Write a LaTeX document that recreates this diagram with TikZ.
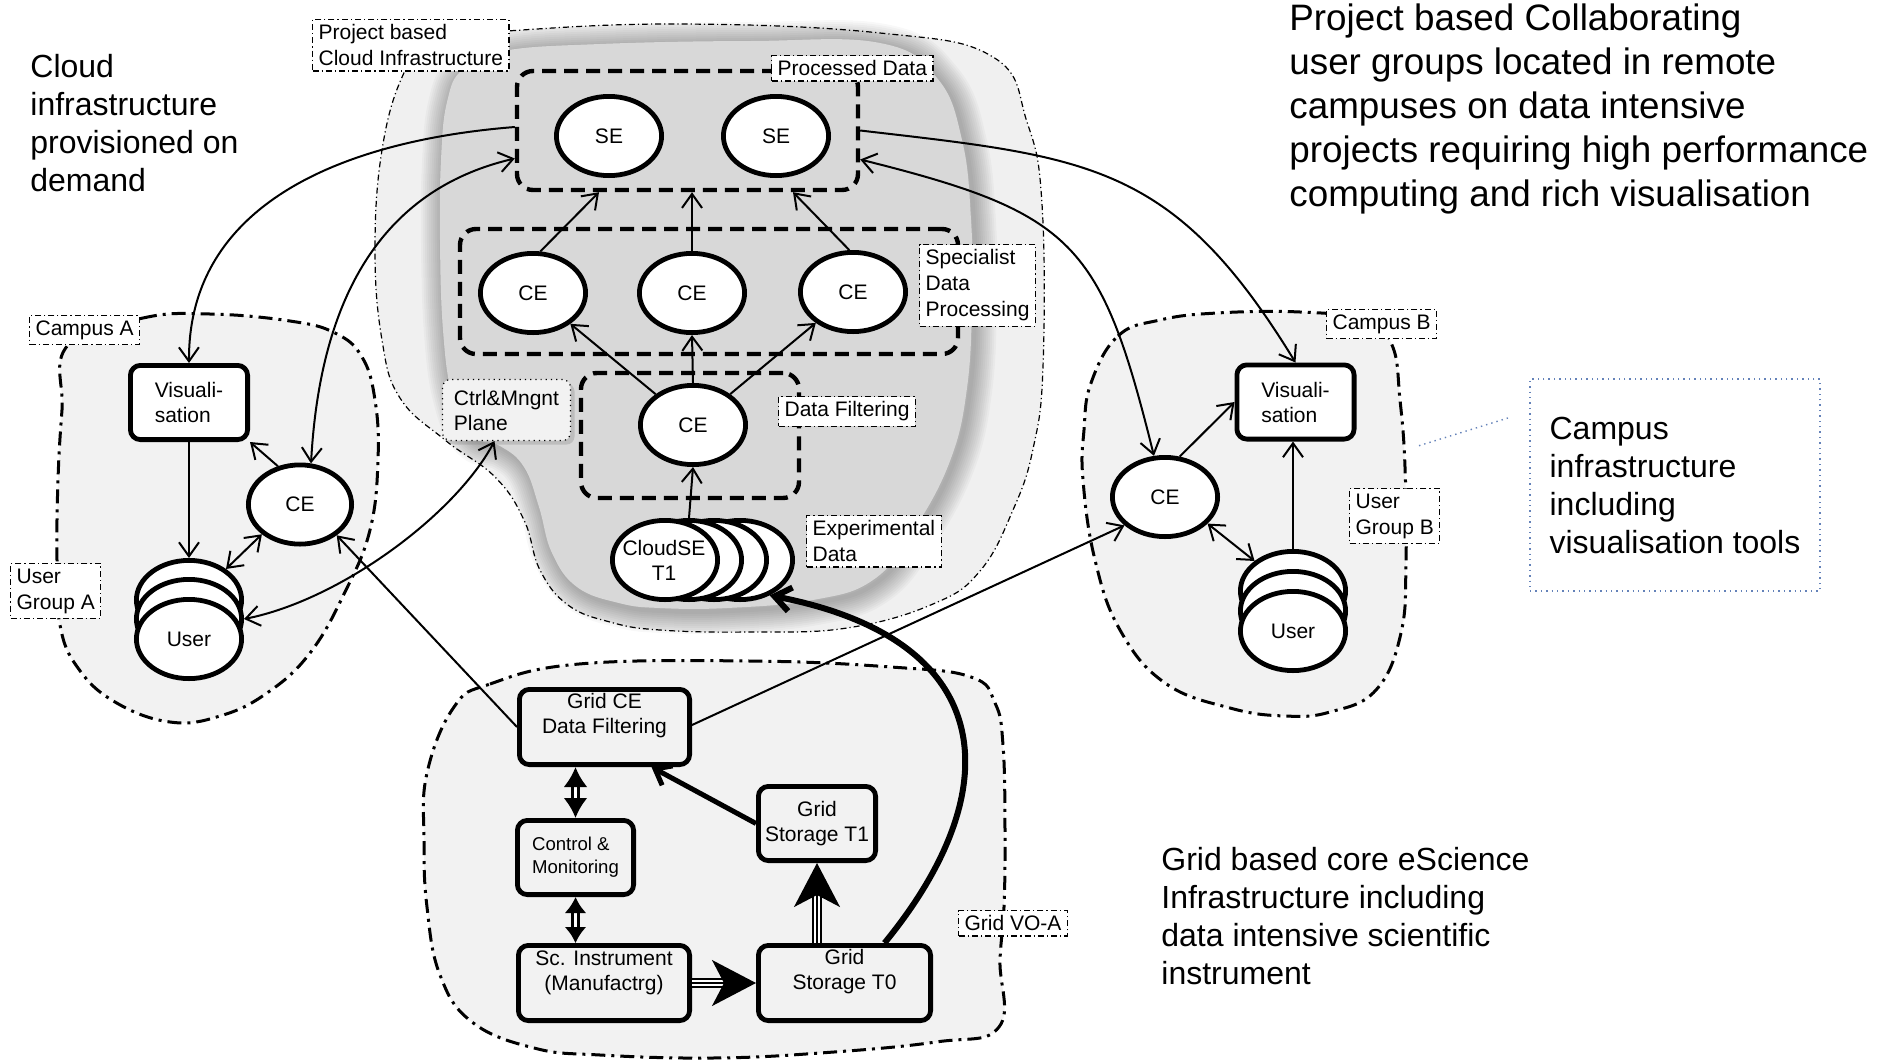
\documentclass[tikz,border=0pt]{standalone}
\usepackage{fontspec}
\setmainfont{Liberation Sans}
\usetikzlibrary{shapes.geometric,arrows.meta,calc,shadows}
\definecolor{lightfill}{RGB}{242,242,242}
\definecolor{cloudfill}{RGB}{240,240,240}
\definecolor{darkfill}{RGB}{216,216,216}
\definecolor{infoblue}{RGB}{100,130,185}
\newcommand\myNodeFont{\fontsize{10.5}{12.5}\selectfont}
\newcommand\myLblFont{\fontsize{10.5}{13}\selectfont}
\newcommand\mySmallFont{\fontsize{9.3}{11.5}\selectfont}
\newcommand\myBigFont{\fontsize{18.4}{22}\selectfont}
\newcommand\myMidFont{\fontsize{16}{19}\selectfont}
\def\outerblob{plot[smooth cycle, tension=0.7] coordinates {(403,75) (432,40) (507,31) (680,24) (880,33) (993,57) (1027,122) (1042,204) (1043,367) (1033,449) (1013,510) (980,571) (933,604) (847,628) (750,632) (660,630) (610,622) (568,605) (540,570) (524,520) (495,477) (445,440) (400,398) (382,340) (375,250) (382,150)}}
\def\innerblob{plot[smooth cycle, tension=0.7] coordinates {(463,69) (503,51) (600,44) (750,41) (880,43) (937,78) (962,140) (971,220) (972,300) (967,388) (950,461) (913,531) (873,580) (813,600) (727,608) (660,608) (619,603) (577,587) (552,553) (539,507) (524,467) (500,446) (470,435) (452,395) (443,330) (440,240) (441,160) (447,102)}}
\def\campusAblob{plot[smooth cycle, tension=0.7] coordinates {(68,345) (143,318) (210,314) (290,321) (335,333) (362,357) (375,400) (378,460) (370,530) (345,592) (310,653) (267,693) (220,716) (170,722) (115,702) (78,668) (60,625) (57,560) (58,480) (62,410)}}
\def\campusBblob{plot[smooth cycle, tension=0.7] coordinates {(1091,383) (1118,336) (1160,320) (1217,313) (1300,312) (1365,320) (1392,345) (1400,400) (1405,467) (1406,560) (1401,633) (1376,690) (1330,712) (1285,716) (1230,708) (1165,683) (1120,630) (1095,560) (1083,480) (1084,430)}}
\def\gridblob{plot[smooth cycle, tension=0.7] coordinates {(454,707) (490,684) (579,664) (750,661) (891,667) (971,677) (995,703) (1003,745) (1005,830) (1004,907) (1000,960) (999,1027) (936,1042) (820,1053) (712,1058) (600,1055) (534,1048) (472,1022) (440,975) (427,907) (424,840) (427,773)}}
\begin{document}
\begin{tikzpicture}[x=0.5pt,y=-0.5pt,
  ell/.style={ellipse, draw, line width=2.4pt, fill=white, minimum width=52.6pt, minimum height=39.6pt, inner sep=0pt, font=\myNodeFont, align=center},
  vbox/.style={rectangle, rounded corners=5pt, draw, line width=2.4pt, fill=white, minimum width=58.6pt, minimum height=37.1pt, inner sep=2pt, font=\myNodeFont, align=left},
  gbox/.style={rectangle, rounded corners=5pt, draw, line width=2.4pt, fill=lightfill, inner sep=0pt, font=\myNodeFont, align=center},
  dbox/.style={rectangle, rounded corners=8pt, draw, line width=2.2pt, dash pattern=on 7pt off 4pt, inner sep=0pt},
  lbl/.style={rectangle, draw, line width=0.6pt, dash pattern=on 3pt off 1.5pt on 0.6pt off 1.5pt, fill=white, font=\myLblFont, align=left, inner xsep=3pt, inner ysep=2.5pt, anchor=north west},
  plaintext/.style={inner sep=0pt, align=left, anchor=north west},
  inbox/.style={font=\myNodeFont, align=center, inner sep=0pt},
  blobline/.style={line width=1.5pt, dash pattern=on 7pt off 3pt on 1.5pt off 3pt},
  thinblob/.style={line width=0.6pt, dash pattern=on 3pt off 1.5pt on 0.6pt off 1.5pt},
  con/.style={line width=1pt, -{Straight Barb[length=7pt,width=10pt]}},
  dcon/.style={line width=1pt, {Straight Barb[length=7pt,width=10pt]}-{Straight Barb[length=7pt,width=10pt]}},
  thickcon/.style={line width=2.5pt, -{Straight Barb[length=7pt,width=11pt]}},
  vthickcon/.style={line width=3pt, -{Straight Barb[length=8pt,width=12pt]}},
  dblarrow/.style={line width=1.5pt, double=white, double distance=1.6pt, {Latex[length=10pt,width=12pt]}-{Latex[length=10pt,width=12pt]}},
  dblarrowsmall/.style={line width=1.4pt, double=white, double distance=1.6pt, {Latex[length=8pt,width=11pt]}-{Latex[length=8pt,width=11pt]}},
  tripleshaft/.style={line width=0.8pt, double=white, double distance=3.2pt},
  triplehead/.style={line width=0.8pt, -{Stealth[length=22pt,width=23pt,inset=6pt]}}
]
\useasboundingbox (0,0) rectangle (1880,1061);
\fill[white] (0,0) rectangle (1880,1061);

% ---- background regions
\fill[cloudfill] \outerblob;
\draw[thinblob] \outerblob;
\fill[lightfill] \campusAblob;
\draw[blobline] \campusAblob;
\fill[lightfill] \campusBblob;
\draw[blobline] \campusBblob;
\fill[lightfill] \gridblob;
\draw[blobline] \gridblob;
\begin{scope}[xshift=1.5pt, yshift=-1.5pt]
\foreach \w in {22,20,18,16,14,12,10,8,6,4,2}{
  \draw[line width=\w pt, black, opacity=0.028, line join=round] \innerblob;}
\end{scope}
\fill[darkfill] \innerblob;

% ---- cloud nodes
\node[dbox, minimum width=170.5pt, minimum height=59.5pt] (procbox) at (687.5,130.5) {};
\node[dbox, minimum width=249pt, minimum height=62.5pt] (specbox) at (709,291.5) {};
\node[dbox, minimum width=109pt, minimum height=62.5pt] (filtbox) at (690,435.5) {};
\node[ell] (se1) at (609,136) {SE};
\node[ell] (se2) at (776,136) {SE};
\node[ell] (ce1) at (533,293) {CE};
\node[ell] (ce2) at (692,293) {CE};
\node[ell] (ce3) at (853,292) {CE};
\node[ell] (fce) at (693,425) {CE};
\node[ell] (cs4) at (740,560) {};
\node[ell] (cs3) at (714,560) {};
\node[ell] (cs2) at (689,560) {};
\node[ell] (cs1) at (665,560) {};
\node[inbox] (cs1T) at (664,560) {CloudSE\\T1};
\node[rectangle, rounded corners=4pt, draw, line width=0.6pt, dotted, fill=lightfill, font=\myNodeFont, align=left, minimum width=64pt, minimum height=30.5pt, inner sep=2pt, drop shadow={shadow xshift=2pt, shadow yshift=-2pt, opacity=0.3}] (ctrlplane) at (506.5,410) {Ctrl\&Mngnt\\Plane};

% ---- campus A
\node[vbox] (visA) at (189,402.5) {Visuali-\\sation};
\node[ell, minimum width=51.6pt] (ceA) at (300,504.5) {CE};
\node[ell] (userA3) at (189,600) {};
\node[ell] (userA2) at (189,619) {};
\node[ell] (userA1) at (189,639) {User};

% ---- campus B
\node[vbox] (visB) at (1295.5,402) {Visuali-\\sation};
\node[ell] (ceB) at (1165,497) {CE};
\node[ell] (userB3) at (1293,591) {};
\node[ell] (userB2) at (1293,611) {};
\node[ell] (userB1) at (1293,631) {User};

% ---- grid
\node[gbox, minimum width=85.1pt, minimum height=37.6pt] (gridce) at (604.5,727) {};
\node[inbox] (gridceT) at (604.5,716) {Grid CE\\Data Filtering};
\node[gbox, minimum width=58.1pt, minimum height=37.1pt, font=\mySmallFont, align=left] (ctrl) at (575.5,857.5) {Control \&\\Monitoring};
\node[gbox, minimum width=85.6pt, minimum height=37.6pt] (scinst) at (604,983) {};
\node[inbox] (scinstT) at (604,972.5) {Sc. Instrument\\(Manufactrg)};
\node[gbox, minimum width=58.6pt, minimum height=37.1pt] (t1) at (817,823.5) {Grid\\Storage T1};
\node[gbox, minimum width=86.1pt, minimum height=37.6pt] (t0) at (844.5,983) {};
\node[inbox] (t0T) at (844.5,971.5) {Grid\\Storage T0};

% ---- connectors in cloud
\draw[con] (ce1.80) -- ($(procbox.south -| se1)+(-10,0)$);
\draw[con] (ce2.north) -- (procbox.south -| ce2);
\draw[con] (ce3.95) -- ($(procbox.south -| se2)+(17,0)$);
\draw[con] (fce) -- (ce1);
\draw[con] (fce.north) -- (ce2.south);
\draw[con] (fce) -- (ce3);
\draw[con] (cs2.north) -- (fce.south);

% ---- long curves
\draw[con] ([yshift=1.75pt]procbox.west) .. controls (350,140) and (188,200) .. (visA.north);
\draw[dcon] ([yshift=-14pt]procbox.west) .. controls (380,190) and (320,300) .. (ceA.75);
\draw[con] (procbox.east) .. controls (1088,157) and (1173,162) .. (visB.north);
\draw[dcon] ([yshift=-14.5pt]procbox.east) .. controls (1075,213) and (1101,243) .. (ceB.105);
\draw[dcon] (userA2.east) .. controls (340,600) and (455,515) .. ($(ctrlplane.south)+(-12,0)$);

% ---- campus connectors
\draw[con] (visA.south) -- (userA3.north);
\draw[con] (ceA.120) -- (visA.south east);
\draw[dcon] (ceA.218) -- (userA3.40);
\draw[con] (ceB.70) -- (visB.west);
\draw[con] (userB3.north) -- (userB3.north |- visB.south);
\draw[dcon] (ceB.-32) -- (userB3.142);

% ---- grid connectors
\draw[con] (gridce.west) -- (ceA.-40);
\draw[con] ([yshift=1pt]gridce.east) -- (ceB.215);
\draw[dblarrow] (ctrl.north) -- (ctrl.north |- gridce.south);
\draw[dblarrowsmall] (ctrl.south) -- (ctrl.south |- scinst.north);
\draw[tripleshaft] (scinst.east) -- ($(t0.west)+(-20,0)$);
\draw[triplehead] (scinst.east) -- (t0.west);
\draw[tripleshaft] (t1.south |- t0.north) -- ($(t1.south)+(0,20)$);
\draw[triplehead] (t1.south |- t0.north) -- (t1.south);
\draw[thickcon] (t1.west) -- ($(gridce.south)+(47,0)$);
\draw[vthickcon] ($(t0.north)+(40,0)$) .. controls (1010,790) and (1000,640) .. (cs4.-50);

% ---- labels
\node[lbl] (projL) at (312,19) {Project based\\Cloud Infrastructure};
\node[lbl] (procL) at (771,55) {Processed Data};
\node[lbl] (specL) at (919,244) {Specialist\\Data\\Processing};
\node[lbl] (filtL) at (778,396) {Data Filtering};
\node[lbl] (expL) at (806,515) {Experimental\\Data};
\node[lbl] (campAL) at (29,315) {Campus A};
\node[lbl] (ugAL) at (10,563) {User\\Group A};
\node[lbl] (campBL) at (1326,309) {Campus B};
\node[lbl] (ugBL) at (1349,488) {User\\Group B};
\node[lbl] (gridL) at (958,910) {Grid VO-A};

% ---- free text
\node[plaintext, font=\myBigFont] (projtxt) at (1289,3) {Project based Collaborating\\user groups located in remote\\campuses on data intensive\\projects requiring high performance\\computing and rich visualisation};
\node[plaintext, font=\myMidFont] (cloudtxt) at (30,54) {Cloud\\infrastructure\\provisioned on\\demand};
\node[plaintext, font=\myMidFont] (gridtxt) at (1161,847) {Grid based core eScience\\Infrastructure including\\data intensive scientific\\instrument};
\node[draw=infoblue, dotted, line width=0.7pt, minimum width=145pt, minimum height=106pt, align=left, font=\myMidFont] (campinfo) at (1675,485) {Campus\\infrastructure\\including\\visualisation tools};
\coordinate (cbA) at (1508,418);
\coordinate (cbB) at (1418,446);
\draw[infoblue, dotted, line width=0.7pt] (cbA) -- (cbB);
\end{tikzpicture}
\end{document}
